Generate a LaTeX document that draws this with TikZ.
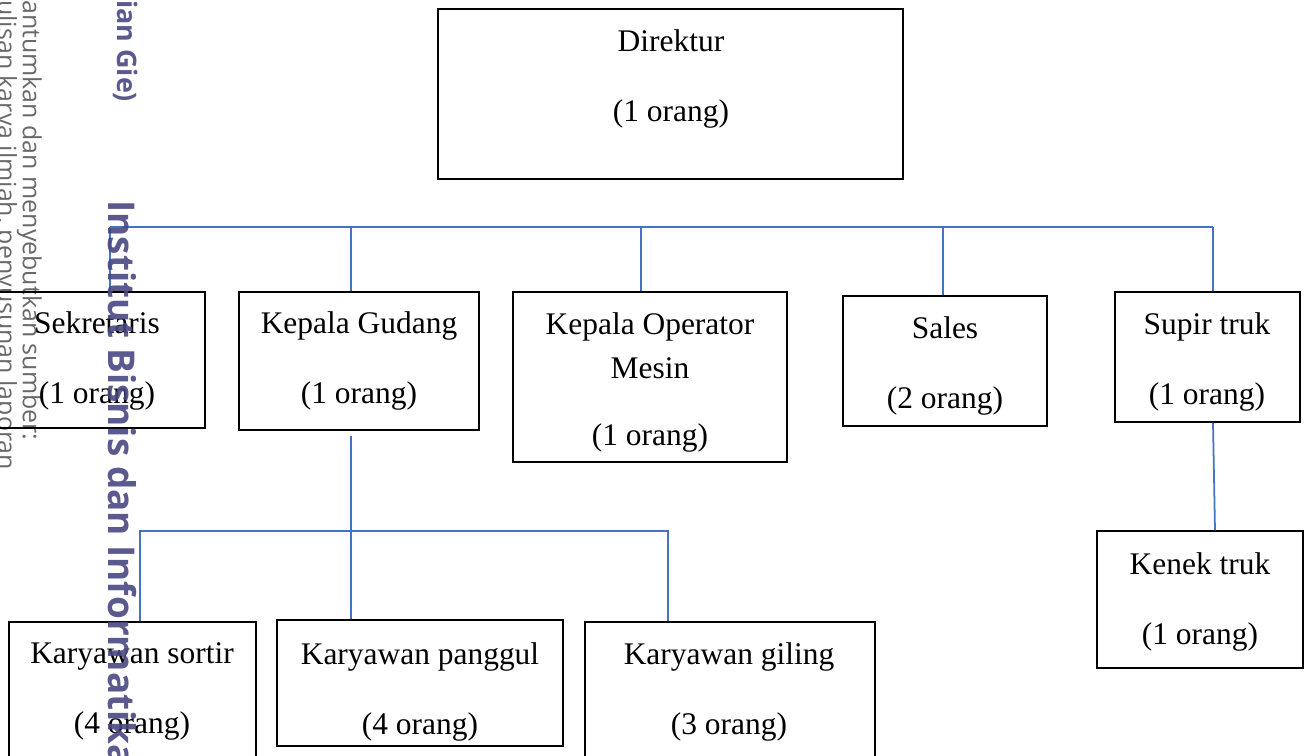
\documentclass[tikz,border=0pt]{standalone}
\usepackage{fontspec}
\setmainfont{Liberation Serif}
\newfontfamily\wmfont{Open Sans}
\usepackage{tikz}
\definecolor{linkblue}{RGB}{68,114,196}
\definecolor{wmpurple}{RGB}{72,72,130}
\definecolor{wmgray}{RGB}{105,105,105}
\usetikzlibrary{fit}

\begin{document}
\begin{tikzpicture}[x=0.02cm, y=-0.02cm,
		orgbox/.style={draw, line width=0.8pt, inner sep=0pt},
		txt/.style={anchor=north, align=center, inner sep=0pt, font=\fontsize{17.9}{25}\selectfont},
		link/.style={draw=linkblue, line width=1pt},
		wmark/.style={anchor=base west, rotate=-90, inner sep=0pt}]
		%Bildbereich
		\useasboundingbox (0,0) rectangle (1309,755);
		\clip (0,0) rectangle (1309,755);
		% Wasserzeichen (grau)
		\node[wmark, text=wmgray, font=\wmfont\fontsize{14.2}{16}\selectfont] (wmA) at (-2,0) {ulisan karya ilmiah, penyusunan laporan};
		\node[wmark, text=wmgray, font=\wmfont\fontsize{14.2}{16}\selectfont] (wmB) at (23,0) {antumkan dan menyebutkan sumber:};
		% Kaesten
		\node[orgbox, fit={(438,9) (903,179)}] (direktur) {};
		\node[orgbox, fit={(-11,292) (205,428)}] (sek) {};
		\node[orgbox, fit={(239,292) (479,430)}] (kg) {};
		\node[orgbox, fit={(513,292) (787,462)}] (kom) {};
		\node[orgbox, fit={(843,296) (1047,426)}] (sales) {};
		\node[orgbox, fit={(1115,292) (1300,422)}] (supir) {};
		\node[orgbox, fit={(1097,531) (1303,668)}] (kenek) {};
		\node[orgbox, fit={(9,622) (256,780)}] (sortir) {};
		\node[orgbox, fit={(277,620) (563,746)}] (panggul) {};
		\node[orgbox, fit={(585,622) (875,780)}] (giling) {};
		% Beschriftung
		\node[txt] (direkturT) at (671,29) {Direktur\\[15pt](1 orang)};
		\node[txt] (sekT) at (97,311) {Sekretaris\\[15pt](1 orang)};
		\node[txt] (kgT) at (359,311) {Kepala Gudang\\[15pt](1 orang)};
		\node[txt] (komT) at (650,312) {Kepala Operator\\Mesin\\[13.5pt](1 orang)};
		\node[txt] (salesT) at (945,316) {Sales\\[15pt](2 orang)};
		\node[txt] (supirT) at (1207,312) {Supir truk\\[15pt](1 orang)};
		\node[txt] (kenekT) at (1200,552) {Kenek truk\\[15pt](1 orang)};
		\node[txt] (sortirT) at (132,642) {Karyawan sortir\\[15pt](4 orang)};
		\node[txt] (panggulT) at (420,642) {Karyawan panggul\\[15pt](4 orang)};
		\node[txt] (gilingT) at (729,642) {Karyawan giling\\[15pt](3 orang)};
		% Verbindungen
		\coordinate (busL) at (110,227);
		\coordinate (busR) at (1213,227);
		\draw[link] (busL) -- (busR);
		\foreach \xx/\n in {110/sek, 351/kg, 641/kom, 943/sales, 1213/supir}
			{\coordinate (b\n) at (\xx,227);
			\draw[link] (b\n) -- (b\n |- \n.north);}
		\draw[link] ([yshift=-5*0.02cm]bkg |- kg.south) -- (bkg |- panggul.north);
		\coordinate (subL) at (140,531);
		\coordinate (subR) at (668,531);
		\draw[link] (subL |- sortir.north) -- (subL) -- (subR) -- (subR |- giling.north);
		\coordinate (kk) at (1215,531);
		\draw[link] (bsupir |- supir.south) -- (kk |- kenek.north);
		% Wasserzeichen (violett)
		\node[wmark, text=wmpurple, opacity=0.9, font=\wmfont\bfseries\fontsize{15.3}{18}\selectfont] (wmC) at (117,0) {ian Gie)};
		\node[wmark, text=wmpurple, opacity=0.9, font=\wmfont\bfseries\fontsize{21}{25}\selectfont] (wmD) at (108,200) {Institut Bisnis dan Informatika};
	\end{tikzpicture}
\end{document}
